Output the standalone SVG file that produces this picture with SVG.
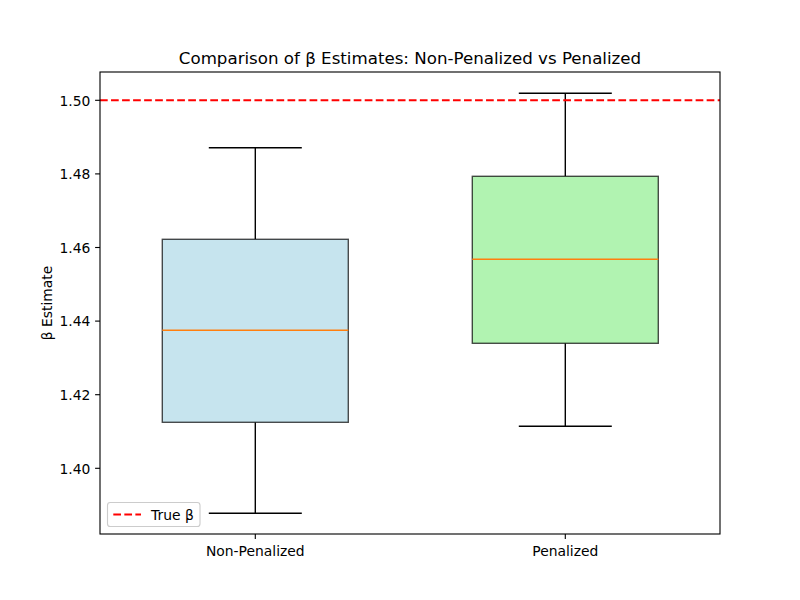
<svg xmlns="http://www.w3.org/2000/svg" width="800" height="600" viewBox="0 0 800 600">
<style>
text { font-family: "DejaVu Sans", "Liberation Sans", sans-serif; fill: #000; }
.tick { font-size: 13.89px; }
.title { font-size: 16.67px; }
.tk { stroke: #000; stroke-width: 1.11; }
.whisk { stroke: #000; stroke-width: 1.39; fill: none; }
.med { stroke: #ff7f0e; stroke-width: 1.39; }
.box { stroke: #000; stroke-opacity: 0.7; stroke-width: 1.39; }
.ref { stroke: #ff0000; stroke-width: 2.08; stroke-dasharray: 7.7 3.33; fill: none; }
</style>
<rect x="0" y="0" width="800" height="600" fill="#ffffff"/>
<text class="title" x="410" y="63.7" text-anchor="middle">Comparison of β Estimates: Non-Penalized vs Penalized</text>
<g id="axes">
  <rect x="100" y="72" width="620" height="462" fill="#ffffff"/>
</g>
<g id="yticks">
  <line class="tk" x1="95.1" y1="468.3" x2="100" y2="468.3"/>
  <line class="tk" x1="95.1" y1="394.7" x2="100" y2="394.7"/>
  <line class="tk" x1="95.1" y1="321.1" x2="100" y2="321.1"/>
  <line class="tk" x1="95.1" y1="247.5" x2="100" y2="247.5"/>
  <line class="tk" x1="95.1" y1="173.9" x2="100" y2="173.9"/>
  <line class="tk" x1="95.1" y1="100.3" x2="100" y2="100.3"/>
  <text class="tick" x="90.3" y="473.5" text-anchor="end">1.40</text>
  <text class="tick" x="90.3" y="399.9" text-anchor="end">1.42</text>
  <text class="tick" x="90.3" y="326.3" text-anchor="end">1.44</text>
  <text class="tick" x="90.3" y="252.7" text-anchor="end">1.46</text>
  <text class="tick" x="90.3" y="179.1" text-anchor="end">1.48</text>
  <text class="tick" x="90.3" y="105.5" text-anchor="end">1.50</text>
  <text class="tick" transform="translate(51.5,303) rotate(-90)" text-anchor="middle">β Estimate</text>
</g>
<g id="xticks">
  <line class="tk" x1="255.3" y1="534" x2="255.3" y2="538.9"/>
  <line class="tk" x1="565.3" y1="534" x2="565.3" y2="538.9"/>
  <text class="tick" x="255.3" y="556.3" text-anchor="middle">Non-Penalized</text>
  <text class="tick" x="565.3" y="556.3" text-anchor="middle">Penalized</text>
</g>
<g id="non-penalized">
  <line class="whisk" x1="255.3" y1="239.3" x2="255.3" y2="147.7"/>
  <line class="whisk" x1="208.8" y1="147.7" x2="301.8" y2="147.7"/>
  <line class="whisk" x1="255.3" y1="422.3" x2="255.3" y2="513.3"/>
  <line class="whisk" x1="208.8" y1="513.3" x2="301.8" y2="513.3"/>
  <rect class="box" x="162.3" y="239.3" width="186" height="183" fill="#c6e4ee"/>
  <line class="med" x1="162.3" y1="330.3" x2="348.3" y2="330.3"/>
</g>
<g id="penalized">
  <line class="whisk" x1="565.3" y1="176.3" x2="565.3" y2="93.3"/>
  <line class="whisk" x1="518.8" y1="93.3" x2="611.8" y2="93.3"/>
  <line class="whisk" x1="565.3" y1="343.3" x2="565.3" y2="426.3"/>
  <line class="whisk" x1="518.8" y1="426.3" x2="611.8" y2="426.3"/>
  <rect class="box" x="472.3" y="176.3" width="186" height="167" fill="#b1f3b1"/>
  <line class="med" x1="472.3" y1="259.3" x2="658.3" y2="259.3"/>
</g>
<g id="connectors">
  <line class="ref" x1="100" y1="100.3" x2="720" y2="100.3"/>
</g>
<g id="frame">
  <rect x="100" y="72" width="620" height="462" fill="none" stroke="#000" stroke-width="1.11"/>
</g>
<g id="legend">
  <rect x="107.5" y="502.5" width="92.5" height="24" rx="2.8" fill="#ffffff" fill-opacity="0.8" stroke="#cccccc" stroke-width="1.11"/>
  <line class="ref" x1="113.3" y1="514.5" x2="141" y2="514.5"/>
  <text class="tick" x="151" y="519.5">True β</text>
</g>
</svg>
